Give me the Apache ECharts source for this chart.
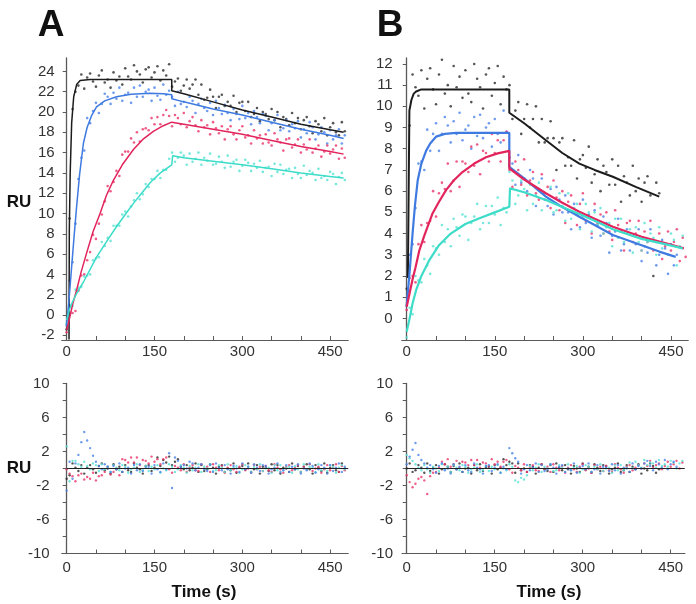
<!DOCTYPE html>
<html><head><meta charset="utf-8">
<script src="https://cdn.jsdelivr.net/npm/echarts@6/dist/echarts.min.js"></script>
<style>html,body{margin:0;padding:0;background:#fff}#c{width:696px;height:604px}</style>
</head><body><div id="c"></div>
<script>
// ---------- axes / categories ----------
const times = [0,5,10,15,20,25,30,35,40,45,50,55,60,65,70,75,80,85,90,95,100,105,110,115,120,125,130,135,140,145,150,155,160,165,170,175,180,185,190,195,200,205,210,215,220,225,230,235,240,245,250,255,260,265,270,275,280,285,290,295,300,305,310,315,320,325,330,335,340,345,350,355,360,365,370,375,380,385,390,395,400,405,410,415,420,425,430,435,440,445,450,455,460,465,470,475];
const xTickValues = [0,50,100,150,200,250,300,350,400,450];
const xLabelValues = [0,150,300,450];
const yLabelsA = [-2,0,2,4,6,8,10,12,14,16,18,20,22,24];
const yLabelsB = [0,1,2,3,4,5,6,7,8,9,10,11,12];
const yLabelsRes = [-10,-6,-2,2,6,10];
const yTicksRes = [-10,-8,-6,-4,-2,0,2,4,6,8,10];

// ---------- panel A: measured responses (RU) every 5 s ----------
const aBlackDots = [-1.4,9.5,20.3,22.0,22.6,23.7,22.3,23.4,23.8,23.0,22.5,23.6,24.1,22.9,23.2,22.4,23.9,23.1,23.5,22.7,
24.3,23.5,23.2,24.6,24.0,23.7,22.9,24.2,24.4,23.4,23.9,24.5,23.1,24.1,23.6,24.7,
22.5,23.0,23.3,22.1,22.6,23.2,22.3,22.7,23.2,21.7,22.7,
21.2,21.4,22.2,21.5,20.4,21.5,21.7,20.6,21.0,20.6,21.6,20.0,20.9,21.0,
20.1,21.0,19.5,19.8,20.4,19.1,20.0,19.8,19.3,20.3,19.2,20.0,18.5,19.5,19.3,18.7,19.9,18.9,19.4,18.3,19.2,19.5,18.6,17.9,19.1,18.8,18.1,19.4,17.7,18.5,18.9,18.0,17.7,19.0,18.1];
const aBlueDots = [-1.0,3.4,5.2,9.0,13.4,15.5,16.2,19.4,18.9,20.1,20.9,19.9,20.8,21.8,21.5,20.8,21.9,21.3,22.4,21.1,
21.7,21.9,20.9,22.4,21.5,22.6,21.5,22.0,22.2,21.1,22.4,21.6,21.2,22.7,21.7,22.1,
21.5,20.6,22.0,20.8,21.0,20.5,21.5,21.1,19.9,20.8,21.3,20.4,20.1,20.9,19.7,21.1,20.4,19.8,20.7,19.9,19.2,20.3,19.8,19.3,
20.6,19.4,19.9,18.8,20.1,19.5,18.9,19.8,19.6,18.2,18.9,19.2,19.7,18.2,18.4,19.2,18.1,18.8,18.4,19.1,
17.5,18.3,17.9,19.0,18.5,17.3,17.8,18.5,18.0,16.9,18.2,17.3,17.7,18.3,16.9,17.7];
const aRedDots = [-1.7,0.3,0.2,0.4,2.4,3.9,4.0,5.4,6.2,7.9,7.5,9.0,9.9,11.2,12.7,12.2,13.1,14.2,13.7,15.8,
16.1,16.1,17.4,17.0,18.0,17.1,18.3,18.4,18.2,19.4,18.8,19.5,18.8,19.7,20.2,19.6,
18.6,19.7,19.4,18.8,19.9,18.5,19.1,19.5,18.7,18.1,19.2,18.5,18.7,17.8,19.0,18.4,17.9,18.6,17.3,18.3,18.6,17.8,17.3,18.2,
18.6,17.5,17.7,16.9,18.2,17.4,17.7,16.9,17.8,17.0,16.7,17.9,17.3,17.0,16.2,17.3,17.4,16.5,16.8,17.3,
16.0,16.8,16.3,17.3,16.0,16.4,16.7,15.6,16.1,16.7,15.9,16.3,16.7,15.4,16.4,15.5];
const aCyanDots = [-0.8,1.0,0.9,2.5,2.7,2.8,3.8,3.9,4.0,5.4,5.6,5.7,7.2,6.8,7.6,7.3,8.8,8.8,8.8,9.9,
10.2,9.7,10.7,11.3,12.0,11.4,11.9,12.9,12.6,13.4,13.4,14.2,13.5,14.3,14.3,15.4,
16.0,15.1,15.5,16.0,15.7,14.8,15.9,15.1,15.4,16.0,14.8,15.5,15.2,15.9,14.8,14.9,15.6,15.1,14.5,15.7,14.6,15.1,15.3,14.2,
14.7,15.3,15.0,14.2,14.9,14.5,15.2,14.1,14.5,14.6,13.7,14.9,14.1,14.8,13.9,14.3,14.4,13.5,14.5,13.9,
13.5,14.7,13.8,14.2,14.0,13.3,14.4,13.5,13.7,13.3,14.1,13.9,12.9,13.6,14.0,13.3];

// ---------- panel A: fitted curves [time, RU] ----------
const aBlackFit = [[4,-2.4],[4.5,8.2],[6,14.0],[8.5,18.9],[12,21.5],[17,22.7],[23,23.1],[40,23.2],[179.5,23.2],[179.5,22.1],[200,21.8],[250,21.0],[300,20.2],[350,19.5],[400,18.8],[450,18.25],[473,18.0]];
const aBlueFit = [[0,-1.0],[4,1.5],[8.5,4.75],[13,8.0],[17,10.7],[22,13.8],[28.5,16.9],[35,18.5],[43,19.7],[51,20.5],[65,21.1],[85,21.5],[110,21.75],[142,21.85],[165,21.8],[179.5,21.7],[179.5,21.3],[200,21.0],[250,20.3],[300,19.7],[350,19.0],[400,18.3],[450,17.7],[473,17.4]];
const aRedFit = [[0,-1.5],[5,-0.3],[10,1.0],[17,2.46],[25,4.3],[34,6.1],[45,8.2],[57,10.0],[68,11.8],[80,13.3],[95,14.8],[114,16.3],[130,17.3],[148,18.1],[165,18.65],[179.5,19.0],[200,18.8],[250,18.3],[300,17.8],[350,17.2],[400,16.6],[450,16.1],[473,15.85]];
const aCyanFit = [[0,-0.5],[5,0.6],[10,1.3],[17,2.1],[30,3.4],[51,5.7],[70,7.4],[85,8.7],[100,9.9],[114,11.0],[128,12.0],[142,13.0],[160,14.0],[179.5,14.8],[181,15.7],[200,15.5],[250,15.15],[300,14.8],[350,14.4],[400,14.0],[450,13.65],[473,13.5]];

// ---------- panel B: measured responses (RU) every 5 s ----------
const bBlackDots = [1.4,9.1,11.5,10.9,10.5,11.7,9.9,11.3,11.8,10.8,10.1,11.5,12.2,10.6,11.0,10.0,11.9,10.9,11.4,10.4,
11.7,10.6,10.2,12.0,11.3,10.9,9.9,11.5,11.8,10.5,11.1,11.9,10.1,11.4,10.8,
11.0,9.4,9.8,10.2,8.7,9.4,10.1,9.0,9.4,10.0,8.3,9.4,8.3,8.5,9.3,8.5,
7.0,8.3,8.5,7.2,7.6,7.2,8.4,6.6,7.5,7.7,7.1,8.1,6.4,6.8,7.5,6.0,7.2,6.9,6.3,7.5,6.3,7.2,5.5,6.7,6.4,5.8,7.2,6.0,6.6,5.5,6.4,6.7,5.8,2.0,6.4,5.9];
const bBlueDots = [0.6,3.0,3.5,5.2,7.3,7.4,7.0,8.9,7.9,8.7,9.2,7.9,8.7,9.5,9.1,8.3,9.3,8.7,9.7,8.4,
8.9,9.1,8.0,9.5,8.6,9.6,8.5,9.0,9.2,8.1,9.4,8.7,8.3,9.8,8.8,
7.6,7.3,6.3,7.7,6.4,6.6,6.0,7.0,6.6,5.3,6.1,6.6,5.6,5.3,6.1,4.9,6.2,5.6,5.0,5.8,5.0,4.2,5.4,4.9,4.3,
5.6,4.5,4.9,3.8,5.1,4.4,3.9,4.8,4.5,3.1,3.9,4.1,4.7,3.2,3.5,4.2,3.2,3.9,3.5,4.2,
2.7,3.4,3.1,4.2,3.7,2.5,3.0,3.7,3.3,2.1,3.5,2.5,3.0];
const bRedDots = [0.4,1.9,2.0,1.7,3.5,4.4,3.6,4.5,4.6,6.0,4.8,5.9,6.4,6.1,7.3,6.0,6.5,7.4,6.2,7.4,
7.3,6.9,8.1,7.2,8.2,6.8,7.9,7.8,7.4,8.7,7.8,8.4,7.4,8.4,8.8,
7.0,6.2,7.4,7.0,6.3,7.5,5.8,6.5,6.9,5.9,5.6,6.8,5.9,6.2,5.2,6.5,5.7,5.1,6.0,4.5,5.5,5.8,5.0,4.4,5.4,
5.9,4.6,4.8,4.0,5.4,4.5,4.9,4.0,5.0,4.1,3.7,5.1,4.4,4.1,3.2,4.5,4.6,3.6,4.0,4.6,
3.2,4.1,3.6,4.6,3.2,3.6,4.0,2.8,3.4,4.1,3.2,3.6,4.2,2.7,3.8,2.9];
const bCyanDots = [-0.9,0.5,0.2,2.0,1.8,1.7,2.8,2.5,2.1,3.4,3.3,3.0,4.4,3.6,4.2,3.4,4.7,4.3,3.9,4.9,
4.8,3.7,4.5,4.8,5.4,4.2,4.5,5.3,4.5,5.3,4.9,5.7,4.4,5.2,5.0,
6.9,6.5,5.4,5.8,6.5,6.1,5.1,6.3,5.4,5.8,6.4,5.1,5.9,5.6,6.2,5.0,5.1,5.9,5.3,4.6,5.9,4.7,5.2,5.4,4.2,
4.8,5.4,5.0,4.1,5.0,4.4,5.2,4.0,4.3,4.5,3.4,4.7,3.8,4.7,3.6,4.0,4.2,3.1,4.3,3.6,
3.2,4.5,3.6,4.0,3.8,3.0,4.3,3.3,3.5,3.0,4.0,3.7,2.5,3.4,3.9];

// ---------- panel B: fitted curves [time, RU] ----------
const bBlackFit = [[2,1.9],[4.6,9.8],[8,10.3],[12,10.6],[16,10.7],[25,10.8],[174.7,10.8],[174.7,9.7],[200,9.2],[237,8.4],[265,7.8],[294,7.3],[320,7.0],[351,6.68],[390,6.2],[430,5.74]];
const bBlueFit = [[0,0.6],[5,2.2],[10,4.0],[14,5.3],[18.7,6.5],[25,7.3],[33,7.9],[40,8.25],[50,8.57],[65,8.7],[84,8.75],[174.7,8.75],[174.7,7.15],[200,6.6],[237,5.74],[265,5.25],[294,4.79],[320,4.4],[351,3.93],[400,3.45],[430,3.15],[458,2.9]];
const bRedFit = [[0,0.55],[5,1.2],[10,1.85],[15,2.4],[21.5,3.2],[30,3.9],[44,4.95],[55,5.5],[67,6.05],[80,6.5],[95,6.9],[115,7.3],[135,7.6],[155,7.78],[174.7,7.9],[174.7,7.07],[200,6.55],[237,5.9],[265,5.45],[294,5.03],[320,4.7],[351,4.32],[400,3.85],[440,3.55],[472,3.3]];
const bCyanFit = [[0,-0.63],[5,0.0],[10,0.7],[16,1.33],[25,2.0],[38.6,2.75],[55,3.45],[75,4.0],[100,4.45],[124,4.72],[150,5.0],[174.7,5.26],[176,6.13],[200,5.95],[237,5.58],[265,5.25],[294,4.92],[320,4.6],[351,4.2],[400,3.75],[440,3.5],[470,3.3]];

// ---------- residuals (RU) every 5 s ----------
const aBlackRes = [-1.2,-0.8,0.6,0.1,-0.3,0.4,-0.6,0.1,0.4,-0.1,-0.5,0.3,0.6,-0.2,0,-0.6,0.5,-0.1,0.2,-0.4,
0.4,-0.2,-0.4,0.6,0.1,-0.1,-0.6,0.3,0.4,-0.3,0.1,1.3,0.3,1.0,0.7,1.4,0.4,0.8,1.1,0.2,
-0.1,0.4,-0.2,0.1,0.6,-0.4,0.4,-0.3,-0.1,0.5,0.1,-0.6,0.2,0.4,-0.4,0,-0.2,0.6,-0.5,0.1,
0.3,-0.1,0.6,-0.4,-0.1,0.4,-0.6,0.2,0.1,-0.3,0.5,-0.2,0.4,-0.6,0.1,0,-0.4,0.6,-0.1,0.3,
-0.4,0.2,0.5,-0.1,-0.6,0.4,0.1,-0.3,0.6,-0.5,0.1,0.4,-0.2,-0.4,0.6,0];
const aBlueRes = [-2.6,0.8,-1.2,0.6,1.6,3.1,4.3,3.3,2.4,1.5,0.8,0.3,-0.1,0.5,0.2,-0.4,0.3,-0.1,0.6,-0.4,
0,0.1,-0.6,0.4,-0.2,0.5,-0.3,0.1,0.2,-0.6,0.4,-0.1,-0.4,0.6,-0.1,1.8,-2.3,1.3,0.9,0.2,
0.4,0,0.8,0.6,-0.2,0.1,0.5,-0.1,-0.3,0.4,-0.4,0.6,0.1,-0.2,0.4,-0.1,-0.6,0.3,0,-0.4,
0.6,-0.1,0.2,-0.5,0.5,0.1,-0.3,0.4,0.3,-0.6,-0.1,0.1,0.6,-0.4,-0.2,0.4,-0.4,0.2,-0.1,0.5,
-0.6,0,-0.2,0.6,0.3,-0.5,-0.1,0.4,0.1,-0.6,0.4,-0.3,0.1,0.6,-0.4,0.2];
const aRedRes = [-0.1,-0.6,-0.9,-1.5,-0.8,-0.6,-1.3,-1.0,-1.2,-0.5,-1.4,-0.9,-0.8,-0.4,0.2,-0.7,-0.4,0.0,-0.8,1.1,
1.0,0.7,1.3,0.7,1.3,0.4,1.0,0.9,0.6,1.4,0.8,1.1,0.5,1.1,1.3,-0.1,-0.5,0.3,0.1,-0.2,
0.5,-0.4,0.1,0.4,-0.2,-0.3,0.5,0,0.2,-0.4,0.5,0.1,-0.2,0.3,-0.5,0.1,0.4,-0.1,-0.4,0.2,
0.5,-0.2,0,-0.5,0.4,-0.1,0.2,-0.3,0.3,-0.2,-0.4,0.5,0.1,-0.1,-0.5,0.2,0.4,-0.2,0.1,0.4,
-0.4,0.2,-0.1,0.5,-0.3,0,0.2,-0.5,-0.1,0.4,-0.2,0.1,0.5,-0.4,0.3,-0.2];
const aCyanRes = [2.6,-1.5,0.9,0.9,0.5,0.2,0.8,0.3,-0.1,0.6,0.4,-0.3,0.5,-0.1,0.2,-0.4,0.4,0.1,-0.2,0.4,
0.2,-0.5,-0.1,0.1,0.5,-0.4,-0.2,0.3,-0.3,0.2,-0.1,0.4,-0.5,0,-0.2,0.5,0.2,-0.4,-0.1,0.4,
0.1,-0.5,0.3,-0.2,0.1,0.5,-0.4,0.2,0,0.5,-0.3,-0.2,0.4,0.1,-0.4,0.5,-0.2,0.1,0.3,-0.5,
-0.1,0.4,0.2,-0.4,0.2,-0.1,0.5,-0.3,0,0.1,-0.5,0.4,-0.2,0.4,-0.2,0.1,0.2,-0.5,0.3,-0.1,
-0.4,0.5,-0.1,0.2,0.1,-0.4,0.5,-0.2,0,-0.3,0.4,0.2,-0.5,0.1,0.4,-0.1];
const bBlackRes = [0,0.6,-0.4,-0.2,0.4,0.1,-0.5,0.6,-0.3,0.1,0.4,-0.6,-0.1,0.5,0.2,-0.4,0.3,-0.1,0.6,-0.4,
0,0.1,-0.6,0.4,-0.2,0.5,-0.3,0.1,0.2,-0.6,0.4,-0.1,0.1,1.1,0.4,0.8,0.6,-0.5,0.6,-0.2,
0,-0.4,0.4,0.2,-0.6,0.1,0.5,-0.1,-0.3,0.4,-0.4,0.6,0.1,-0.2,0.4,-0.1,-0.6,0.3,0,-0.4,
0.6,-0.1,0.2,-0.5,0.5,0.1,-0.3,0.4,0.3,-0.6,-0.1,0.1,0.6,-0.4,-0.2,0.4,-0.4,0.2,-0.1,0.5,
-0.6,0,-0.2,0.6,0.3,-0.5,-0.1];
const bBlueRes = [0.5,1.4,2.2,3.0,1.6,1.0,0.6,0.1,0.4,-0.1,-0.5,0.3,0.6,-0.2,0,-0.6,0.5,-0.1,0.2,-0.4,
0.4,-0.2,-0.4,0.6,0.1,-0.1,-0.6,0.3,0.4,-0.3,0.1,0.5,-0.5,0.2,-0.1,2.4,1.8,1.2,0.8,-0.6,
-0.1,0.4,-0.2,0.1,0.6,-0.4,0.4,-0.3,-0.1,0.5,0.1,-0.6,0.2,0.4,-0.4,0,-0.2,0.6,-0.5,0.1,
0.3,-0.1,0.6,-0.4,-0.1,0.4,-0.6,0.2,0.1,-0.3,0.5,-0.2,0.4,-0.6,0.1,0,-0.4,0.6,-0.1,0.3,
0,0.6,0.9,0.3,-0.2,0.8,0.5,0.1,1.0,-0.1,0.5,0.8,0.2];
const bRedRes = [-0.8,-1.6,-2.2,-1.8,-1.2,-1.0,-1.4,-3.0,-0.9,-0.5,-0.4,0.1,0.8,0.5,1.1,0.2,0.5,0.9,0.1,0.8,
0.7,0.4,1.0,0.4,1.0,0.1,0.7,0.6,0.3,1.1,0.5,0.8,0.2,0.8,1.0,-0.1,-0.5,0.3,0.1,-0.2,
0.5,-0.4,0.1,0.4,-0.2,-0.3,0.5,0,0.2,-0.4,0.5,0.1,-0.2,0.3,-0.5,0.1,0.4,-0.1,-0.4,0.2,
0.5,-0.2,0,-0.5,0.4,-0.1,0.2,-0.3,0.3,-0.2,-0.4,0.5,0.1,-0.1,-0.5,0.2,0.4,-0.2,0.1,0.4,
0,0.6,0.3,0.9,0.1,0.4,0.6,-0.1,0.3,0.8,0.2,0.5,0.9,0,0.7,0.2];
const bCyanRes = [1.6,1.2,0.9,0.5,0.1,-0.2,0.4,-0.1,-0.5,0.2,0,-0.3,0.5,-0.1,0.2,-0.4,0.4,0.1,-0.2,0.4,
0.2,-0.5,-0.1,0.1,0.5,-0.4,-0.2,0.3,-0.3,0.2,-0.1,0.4,-0.5,0,-0.2,0.5,0.2,-1.4,-1.6,-1.1,
-1.3,-0.8,0.3,-0.2,0.1,0.5,-0.4,0.2,0,0.5,-0.3,-0.2,0.4,0.1,-0.4,0.5,-0.2,0.1,0.3,-0.5,
-0.1,0.4,0.2,-0.4,0.2,-0.1,0.5,-0.3,0,0.1,-0.5,0.4,-0.2,0.4,-0.2,0.1,0.7,0.0,0.8,0.4,
0.1,1.0,0.4,0.7,0.6,0.1,1.0,0.3,0.5,0.2,0.9,0.7,0.0,0.6,0.9];
const zeroA = [[0,0],[481,0]];
const zeroB = [[0,0],[474,0]];

// ---------- styling ----------
const FONT = 'Liberation Sans, Arial, sans-serif';
const LINE_COL = {black:'#1c1c1c', blue:'#3f7ae0', red:'#e2245c', cyan:'#3ddcc8'};
const DOT_COL = {black:'#2a2a2a', blue:'#4a82ea', red:'#ea3569', cyan:'#55e2d2'};
const AX = '#5a5a5a';

const toPts = arr => arr.map((v, i) => [times[i], v]);

function xAx(gi, min, max, margin) {
  return {type:'value', gridIndex:gi, min:min, max:max,
    axisLine:{onZero:false, lineStyle:{color:AX, width:1}},
    axisTick:{inside:true, length:4, customValues:xTickValues, lineStyle:{color:AX}},
    axisLabel:{customValues:xLabelValues, margin:margin, color:'#333', fontSize:15, fontFamily:FONT},
    splitLine:{show:false}};
}
function yAx(gi, min, max, labels, ticks, margin) {
  return {type:'value', gridIndex:gi, min:min, max:max,
    axisLine:{onZero:true, lineStyle:{color:AX, width:1.3}},
    axisTick:{length:4, customValues:ticks, lineStyle:{color:AX}},
    axisLabel:{customValues:labels, margin:margin, color:'#333', fontSize:15, fontFamily:FONT},
    splitLine:{show:false}};
}

const series = [];
function dots(gi, arr, col, size) {
  series.push({type:'scatter', xAxisIndex:gi, yAxisIndex:gi, data:toPts(arr),
    symbol:'circle', symbolSize:size, itemStyle:{color:col}, silent:true, z:2});
}
function fit(gi, pts, col, w) {
  series.push({type:'line', xAxisIndex:gi, yAxisIndex:gi, data:pts, showSymbol:false,
    lineStyle:{color:col, width:w}, silent:true, z:4});
}
// panel A
dots(0, aBlackDots, DOT_COL.black, 2.6); dots(0, aBlueDots, DOT_COL.blue, 2.6);
dots(0, aRedDots, DOT_COL.red, 2.6); dots(0, aCyanDots, DOT_COL.cyan, 2.6);
fit(0, aBlackFit, LINE_COL.black, 1.5); fit(0, aBlueFit, LINE_COL.blue, 1.5);
fit(0, aRedFit, LINE_COL.red, 1.5); fit(0, aCyanFit, LINE_COL.cyan, 1.5);
// panel B
dots(1, bBlackDots, DOT_COL.black, 2.6); dots(1, bBlueDots, DOT_COL.blue, 2.6);
dots(1, bRedDots, DOT_COL.red, 2.6); dots(1, bCyanDots, DOT_COL.cyan, 2.6);
fit(1, bBlackFit, LINE_COL.black, 2); fit(1, bBlueFit, LINE_COL.blue, 2.2);
fit(1, bRedFit, LINE_COL.red, 2.2); fit(1, bCyanFit, LINE_COL.cyan, 2.2);
// residuals A
dots(2, aBlackRes, DOT_COL.black, 2.4); dots(2, aRedRes, DOT_COL.red, 2.4);
dots(2, aCyanRes, DOT_COL.cyan, 2.4); dots(2, aBlueRes, DOT_COL.blue, 2.4);
fit(2, zeroA, '#222', 1);
// residuals B
dots(3, bBlackRes, DOT_COL.black, 2.4); dots(3, bRedRes, DOT_COL.red, 2.4);
dots(3, bCyanRes, DOT_COL.cyan, 2.4); dots(3, bBlueRes, DOT_COL.blue, 2.4);
fit(3, zeroB, '#222', 1);

const option = {
  animation:false,
  backgroundColor:'#fff',
  grid:[
    {left:61.7, top:58, width:286.6, height:282},
    {left:401.7, top:58, width:286.6, height:282},
    {left:61.7, top:383.5, width:286.6, height:170},
    {left:402, top:383.5, width:283, height:170}
  ],
  xAxis:[
    xAx(0, -8.5, 481, 4),
    xAx(1, -8.5, 479.5, 4),
    xAx(2, -8.5, 481, 7),
    xAx(3, -8, 474.4, 7)
  ],
  yAxis:[
    yAx(0, -2.46, 25.32, yLabelsA, yLabelsA, 7),
    yAx(1, -1.02, 12.28, yLabelsB, yLabelsB, 9),
    yAx(2, -10, 10, yLabelsRes, yTicksRes, 12),
    yAx(3, -10, 10, yLabelsRes, yTicksRes, 9)
  ],
  series:series
};

const chart = echarts.init(document.getElementById('c'), null, {renderer:'canvas'});
chart.setOption(option);
function label(s, cx, cy, size) {
  return {type:'text', x:cx, y:cy, silent:true,
    style:{text:s, fill:'#111', font:'bold ' + size + 'px ' + FONT, align:'center', verticalAlign:'middle'}};
}
chart.setOption({graphic:[
  label('A', 51, 26, 37),
  label('B', 390, 26, 37),
  label('RU', 19, 202, 17),
  label('RU', 19, 468, 17),
  label('Time (s)', 204, 592, 17),
  label('Time (s)', 549, 592, 17)
]});
</script>
</body></html>
